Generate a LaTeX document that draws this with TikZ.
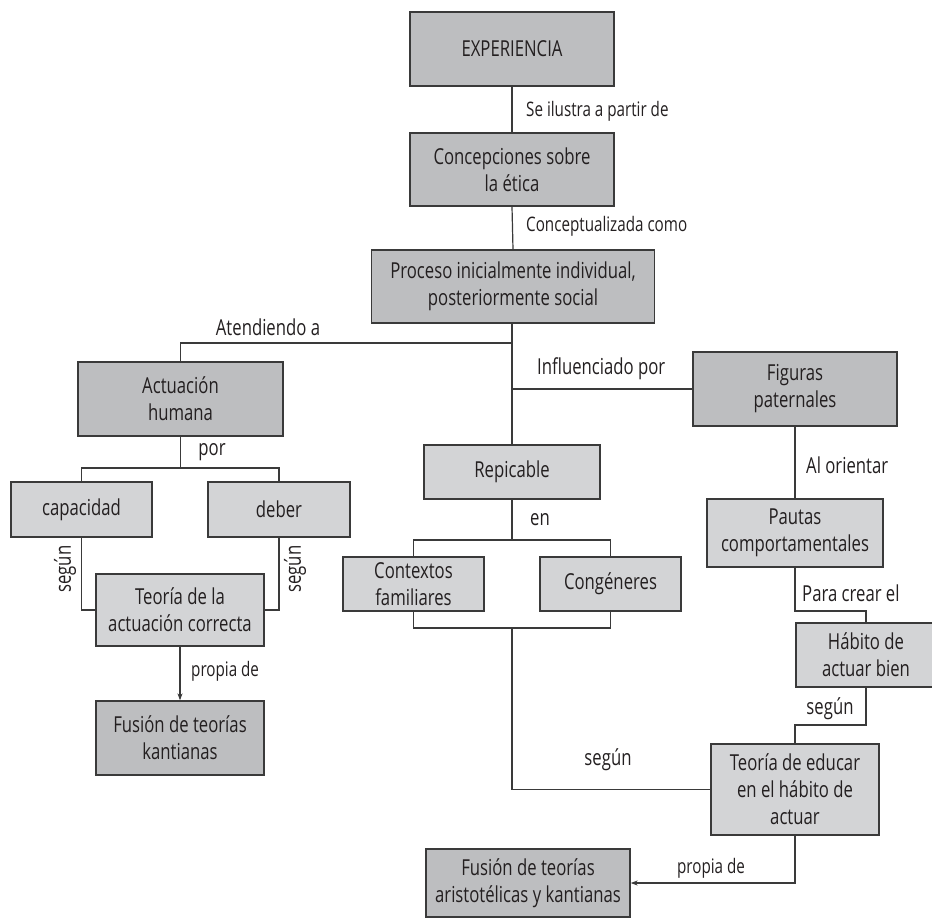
\documentclass[tikz,border=0pt]{standalone}
\usepackage{fontspec}
\setmainfont[FakeStretch=0.76]{Open Sans}
\usetikzlibrary{arrows.meta}
\definecolor{darkfill}{HTML}{BDBEC0}
\definecolor{lightfill}{HTML}{D3D4D6}
\definecolor{inkline}{HTML}{3A3A3A}
\definecolor{inktext}{HTML}{231F20}

\begin{document}
\begin{tikzpicture}[x=1pt,y=-1pt,
  box/.style={draw=inkline, line width=1.3pt, align=center, inner sep=0pt,
    text=inktext, font=\fontsize{22}{27}\selectfont},
  darkbox/.style={box, fill=darkfill},
  lightbox/.style={box, fill=lightfill},
  link/.style={draw=inkline, line width=1.2pt},
  arrowlink/.style={link, -{Stealth[length=7pt,width=5pt]}},
  lbl/.style={text=inktext, inner sep=0pt, font=\fontsize{22}{26}\selectfont},
  smalllbl/.style={lbl, font=\fontsize{20}{24}\selectfont}]

\useasboundingbox (0,0) rectangle (932,919);

% --- boxes ---
\node[darkbox, minimum width=204, minimum height=74] (exp) at (512,49) {EXPERIENCIA};
\node[darkbox, minimum width=204, minimum height=73] (conc) at (512,169.5) {Concepciones sobre\\la ética};
\node[darkbox, minimum width=283, minimum height=73] (proc) at (513,286.5) {Proceso inicialmente individual,\\posteriormente social};
\node[darkbox, minimum width=205, minimum height=74] (act) at (180.5,399) {Actuación\\humana};
\node[darkbox, minimum width=204, minimum height=74] (fig) at (795,389) {Figuras\\paternales};
\node[lightbox, minimum width=141, minimum height=55] (cap) at (81.5,509.5) {capacidad};
\node[lightbox, minimum width=142, minimum height=55] (deb) at (279,509.5) {deber};
\node[lightbox, minimum width=168, minimum height=72] (teoc) at (180,610) {Teoría de la\\actuación correcta};
\node[darkbox, minimum width=168, minimum height=74] (fusk) at (180,738) {Fusión de teorías\\kantianas};
\node[lightbox, minimum width=176, minimum height=54] (rep) at (512,472) {Repicable};
\node[lightbox, minimum width=141, minimum height=54] (ctx) at (413.5,584) {Contextos\\familiares};
\node[lightbox, minimum width=141, minimum height=54] (cong) at (610.5,584) {Congéneres};
\node[lightbox, minimum width=176, minimum height=68] (paut) at (795,533) {Pautas\\comportamentales};
\node[lightbox, minimum width=140, minimum height=64] (hab) at (866,655) {Hábito de\\actuar bien};
\node[lightbox, minimum width=168, minimum height=91] (teoe) at (795,789.5) {Teoría de educar\\en el hábito de\\actuar};
\node[darkbox, minimum width=204, minimum height=68] (fusak) at (528,883) {Fusión de teorías\\aristotélicas y kantianas};

% --- junction points ---
\coordinate (j1) at (512,343);
\coordinate (j2) at (180,468);
\coordinate (j3) at (512,540);
\coordinate (j4) at (512,628);
\coordinate (j5) at (795,611);
\coordinate (j6) at (866,725);

% --- connectors ---
\draw[link] (exp.south) -- (conc.north);
\draw[link] (conc.south) -- (proc.north);
\draw[link] (proc.south -| j1) -- (j1) -| (act.north);
\draw[link] (j1) -- (rep.north);
\draw[link] (fig.west -| j1) -- (fig.west);
\draw[link] (act.south) -- (act.south |- j2);
\draw[link] (cap.north) -- (cap.north |- j2) -- (deb.north |- j2) -- (deb.north);
\draw[link] (cap.south) |- (teoc.west);
\draw[link] (deb.south) |- (teoc.east);
\draw[arrowlink] (teoc.south) -- (fusk.north);
\draw[link] (rep.south) -- (rep.south |- j3);
\draw[link] (ctx.north) -- (ctx.north |- j3) -- (cong.north |- j3) -- (cong.north);
\draw[link] (ctx.south) -- (ctx.south |- j4) -- (cong.south |- j4) -- (cong.south);
\draw[link] (j4) |- (teoe.west);
\draw[link] (fig.south) -- (paut.north);
\draw[link] (paut.south) -- (j5) -| (hab.north);
\draw[link] (hab.south) -- (j6) -| (teoe.north);
\draw[arrowlink] (teoe.south) |- (fusak.east);

% --- connector labels ---
\node[smalllbl, anchor=west] (l1) at (526,111) {Se ilustra a partir de};
\node[smalllbl, anchor=west] (l2) at (526,226) {Conceptualizada como};
\node[lbl] (l3) at (268,327) {Atendiendo a};
\node[lbl, anchor=west] (l4) at (537,369) {Influenciado por};
\node[lbl] (l5) at (212,452) {por};
\node[lbl, rotate=90] (l6) at (65,569) {según};
\node[lbl, rotate=90] (l7) at (295,569) {según};
\node[smalllbl, anchor=west] (l8) at (191,671) {propia de};
\node[lbl] (l9) at (540,520) {en};
\node[lbl, anchor=west] (l10) at (806,465) {Al orientar};
\node[lbl, anchor=west] (l11) at (802,593) {Para crear el};
\node[lbl] (l12) at (830,709) {según};
\node[lbl] (l13) at (608,760) {según};
\node[smalllbl] (l14) at (711,868) {propia de};

\end{tikzpicture}
\end{document}
